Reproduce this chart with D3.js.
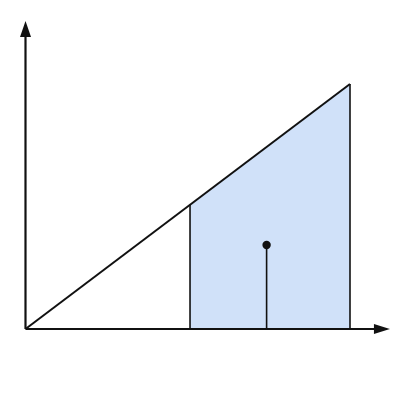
<!DOCTYPE html>
<html>
<head>
<meta charset="utf-8">
<script src="https://cdn.jsdelivr.net/npm/d3@7"></script>
<style>
  html, body { margin: 0; padding: 0; background: #fff; }
</style>
</head>
<body>
<div id="chart"></div>
<script>
// line y = x, shaded band under it, one stem inside the band
const lineX = [0, 100];
const lineY = [0, 100];
const bandX = [50.7, 100];
const stemX = [74.3];
const stemY = [34.3];
const axisEnd = { x: 112.3, y: 125.7 };

const width = 400;
const height = 400;

const svg = d3
  .select("#chart")
  .append("svg")
  .attr("width", width)
  .attr("height", height);

const x = d3.scaleLinear().domain([0, 100]).range([25.5, 350]);
const y = d3.scaleLinear().domain([0, 100]).range([329, 84]);

const lineData = lineX.map((d, i) => ({ x: d, y: lineY[i] }));
const f = (v) => v; // y = x

// shaded area between split and end
const area = d3
  .area()
  .x((d) => x(d))
  .y0(y(0))
  .y1((d) => y(f(d)));

svg
  .append("path")
  .datum(bandX)
  .attr("d", area)
  .style("fill", "#d0e1f9");

// vertical edges of the band
svg
  .selectAll(".edge")
  .data(bandX)
  .enter()
  .append("line")
  .attr("class", "edge")
  .attr("x1", (d) => x(d))
  .attr("x2", (d) => x(d))
  .attr("y1", y(0))
  .attr("y2", (d) => y(f(d)))
  .style("stroke", "#111")
  .style("stroke-width", 1.6);

// diagonal line
svg
  .append("path")
  .datum(lineData)
  .attr(
    "d",
    d3
      .line()
      .x((d) => x(d.x))
      .y((d) => y(d.y))
  )
  .style("fill", "none")
  .style("stroke", "#111")
  .style("stroke-width", 2);

// axes
const ox = x(0);
const oy = y(0);
const xTip = x(axisEnd.x);
const yTip = y(axisEnd.y);

svg
  .append("line")
  .attr("x1", ox)
  .attr("y1", oy)
  .attr("x2", xTip - 14)
  .attr("y2", oy)
  .style("stroke", "#111")
  .style("stroke-width", 2.2);

svg
  .append("line")
  .attr("x1", ox)
  .attr("y1", oy)
  .attr("x2", ox)
  .attr("y2", yTip + 14)
  .style("stroke", "#111")
  .style("stroke-width", 2.2);

svg
  .append("path")
  .attr("d", `M${xTip},${oy} L${xTip - 16},${oy - 5} L${xTip - 16},${oy + 5} Z`)
  .style("fill", "#111");

svg
  .append("path")
  .attr("d", `M${ox},${yTip} L${ox - 5.5},${yTip + 16} L${ox + 5.5},${yTip + 16} Z`)
  .style("fill", "#111");

// stem with dot
const stems = stemX.map((d, i) => ({ x: d, y: stemY[i] }));

svg
  .selectAll(".stem")
  .data(stems)
  .enter()
  .append("line")
  .attr("class", "stem")
  .attr("x1", (d) => x(d.x))
  .attr("x2", (d) => x(d.x))
  .attr("y1", y(0))
  .attr("y2", (d) => y(d.y))
  .style("stroke", "#111")
  .style("stroke-width", 1.6);

svg
  .selectAll(".dot")
  .data(stems)
  .enter()
  .append("circle")
  .attr("class", "dot")
  .attr("cx", (d) => x(d.x))
  .attr("cy", (d) => y(d.y))
  .attr("r", 4.2)
  .style("fill", "#111");
</script>
</body>
</html>
